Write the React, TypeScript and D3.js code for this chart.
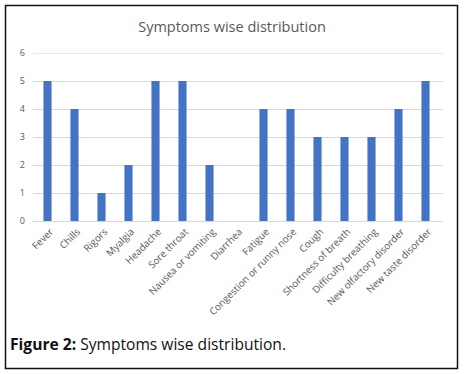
import React, { useEffect, useRef } from 'react';
import * as d3 from 'd3';

const symptoms = [
  'Fever', 'Chills', 'Rigors', 'Myalgia', 'Headache', 'Sore throat',
  'Nausea or vomiting', 'Diarrhea', 'Fatigue', 'Congestion or runny nose',
  'Cough', 'Shortness of breath', 'Difficulty breathing',
  'New olfactory disorder', 'New taste disorder',
];
const counts = [5, 4, 1, 2, 5, 5, 2, 0, 4, 4, 3, 3, 3, 4, 5];
const yTicks = [0, 1, 2, 3, 4, 5, 6];

const chartTitle = 'Symptoms wise distribution';

export default function App() {
  const svgRef = useRef<SVGSVGElement>(null);

  useEffect(() => {
    if (!svgRef.current) return;
    const svg = d3.select(svgRef.current);
    svg.selectAll('*').remove();

    const font = "'Open Sans', 'Liberation Sans', sans-serif";
    const grey = '#595959';

    // outer frame
    svg.append('rect')
      .attr('x', 5.5).attr('y', 5.5)
      .attr('width', 452).attr('height', 363)
      .attr('fill', '#fff')
      .attr('stroke', '#111').attr('stroke-width', 1.5);

    const x = d3.scaleBand()
      .domain(symptoms)
      .range([34, 439])
      .paddingInner(0.7)
      .paddingOuter(0.35);

    const y = d3.scaleLinear().domain([0, 5]).range([221, 81]);

    // title
    svg.append('text')
      .attr('x', 232).attr('y', 32)
      .attr('text-anchor', 'middle')
      .style('font-family', font)
      .style('font-size', '14.5px')
      .style('fill', grey)
      .text(chartTitle);

    // gridlines
    svg.append('g')
      .selectAll('line')
      .data(yTicks)
      .enter()
      .append('line')
      .attr('x1', 33).attr('x2', 443)
      .attr('y1', d => Math.round(y(d)) + 0.5)
      .attr('y2', d => Math.round(y(d)) + 0.5)
      .attr('stroke', d => (d === 6 ? '#eee6ee' : '#d9d9d9'))
      .attr('stroke-width', 1);

    // y labels
    svg.append('g')
      .selectAll('text')
      .data(yTicks)
      .enter()
      .append('text')
      .attr('x', 25)
      .attr('y', d => y(d))
      .attr('dy', '0.35em')
      .attr('text-anchor', 'end')
      .style('font-family', font)
      .style('font-size', '9px')
      .style('fill', grey)
      .text(d => d);

    // bars
    svg.append('g')
      .selectAll('rect')
      .data(symptoms)
      .enter()
      .append('rect')
      .attr('x', d => x(d)!)
      .attr('width', x.bandwidth())
      .attr('y', (d, i) => y(counts[i]))
      .attr('height', (d, i) => y(0) - y(counts[i]))
      .attr('fill', '#4472C4');

    // x labels
    svg.append('g')
      .selectAll('text')
      .data(symptoms)
      .enter()
      .append('text')
      .attr('transform', d => `translate(${x(d)! + x.bandwidth() / 2 + 4},${230}) rotate(-45)`)
      .attr('text-anchor', 'end')
      .attr('dy', '0.35em')
      .style('font-family', font)
      .style('font-size', '9.8px')
      .style('fill', grey)
      .text(d => d);

    // caption
    const cap = svg.append('text')
      .attr('x', 10).attr('y', 350)
      .style('font-family', font)
      .style('font-size', '15.6px')
      .style('fill', '#111');
    cap.append('tspan').style('font-weight', 'bold').text('Figure 2:');
    cap.append('tspan').text(' Symptoms wise distribution.');
  }, []);

  return (
    <svg
      ref={svgRef}
      width={466}
      height={374}
      style={{ position: 'absolute', left: 0, top: 0, background: '#fff' }}
    />
  );
}
